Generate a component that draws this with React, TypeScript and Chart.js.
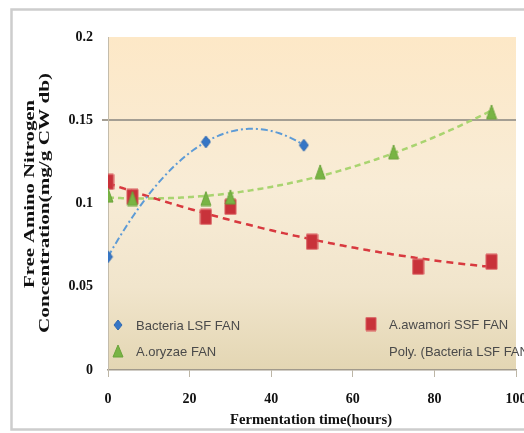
import React, { useEffect, useRef } from 'react';
import { Chart, registerables } from 'chart.js';

Chart.register(...registerables);

// ---- data ----
const bacteriaX = [0, 24, 48];
const bacteriaY = [0.068, 0.137, 0.135];
const awamoriX = [0, 6, 24, 30, 50, 76, 94];
const awamoriY = [0.113, 0.104, 0.092, 0.098, 0.077, 0.062, 0.065];
const oryzaeX = [0, 6, 24, 30, 52, 70, 94];
const oryzaeY = [0.105, 0.103, 0.103, 0.104, 0.119, 0.131, 0.155];

const xTickLabels = ['0', '20', '40', '60', '80', '100'];
const yTickLabels = ['0', '0.05', '0.1', '0.15', '0.2'];
const legendLabels = ['Bacteria LSF FAN', 'A.awamori SSF FAN', 'A.oryzae FAN', 'Poly. (Bacteria LSF FAN)'];
const xTitle = 'Fermentation time(hours)';
const yTitleLines = ['Free Amino Nitrogen', 'Concentration(mg/g CW db)'];

// quadratic least-squares trendline (like Excel "Poly." trendline, order 2)
function polyFit2(xs: number[], ys: number[]) {
  let s0 = 0, s1 = 0, s2 = 0, s3 = 0, s4 = 0, t0 = 0, t1 = 0, t2 = 0;
  for (let i = 0; i < xs.length; i++) {
    const x = xs[i], y = ys[i];
    s0 += 1; s1 += x; s2 += x * x; s3 += x * x * x; s4 += x * x * x * x;
    t0 += y; t1 += x * y; t2 += x * x * y;
  }
  const det3 = (m: number[][]) =>
    m[0][0] * (m[1][1] * m[2][2] - m[1][2] * m[2][1]) -
    m[0][1] * (m[1][0] * m[2][2] - m[1][2] * m[2][0]) +
    m[0][2] * (m[1][0] * m[2][1] - m[1][1] * m[2][0]);
  const A = [[s0, s1, s2], [s1, s2, s3], [s2, s3, s4]];
  const B = [t0, t1, t2];
  const D = det3(A);
  const col = (k: number) => A.map((row, r) => row.map((v, c) => (c === k ? B[r] : v)));
  return [det3(col(0)) / D, det3(col(1)) / D, det3(col(2)) / D];
}
function trend(xs: number[], ys: number[]) {
  const [a, b, c] = polyFit2(xs, ys);
  const pts: { x: number; y: number }[] = [];
  const x0 = xs[0], x1 = xs[xs.length - 1];
  for (let x = x0; x <= x1; x += 0.5) pts.push({ x, y: a + b * x + c * x * x });
  return pts;
}
const pairs = (xs: number[], ys: number[]) => xs.map((x, i) => ({ x, y: ys[i] }));

function makeMarker(kind: string, w: number, h: number, fill: string, stroke: string) {
  const c = document.createElement('canvas');
  c.width = w + 2; c.height = h + 2;
  const g = c.getContext('2d')!;
  g.fillStyle = fill; g.strokeStyle = stroke; g.lineWidth = 1;
  g.beginPath();
  if (kind === 'diamond') {
    g.moveTo(1 + w / 2, 1); g.lineTo(1 + w, 1 + h / 2); g.lineTo(1 + w / 2, 1 + h); g.lineTo(1, 1 + h / 2);
  } else if (kind === 'square') {
    g.rect(1, 1, w, h);
  } else {
    g.moveTo(1 + w / 2, 1); g.lineTo(1 + w, 1 + h); g.lineTo(1, 1 + h);
  }
  g.closePath(); g.fill(); g.stroke();
  return c;
}

const SERIF = '"Liberation Serif", "Times New Roman", serif';
const SANS = '"Liberation Sans", Arial, sans-serif';

export default function App() {
  const ref = useRef<HTMLCanvasElement>(null);
  useEffect(() => {
    const canvas = ref.current!;
    const diamond = makeMarker('diamond', 9, 12, '#3676c6', '#2f68b0');
    const square = makeMarker('square', 11, 15, '#c8323a', '#d9585c');
    const tri = makeMarker('tri', 10, 14, '#78b444', '#6aa33a');
    const diamondL = makeMarker('diamond', 8, 10, '#3676c6', '#2f68b0');
    const squareL = makeMarker('square', 10, 13, '#c8323a', '#d9585c');
    const triL = makeMarker('tri', 10, 12, '#78b444', '#6aa33a');

    const bgPlugin = {
      id: 'bg',
      beforeDraw(chart: any) {
        const ctx = chart.ctx as CanvasRenderingContext2D;
        const { left, right, top, bottom } = chart.chartArea;
        ctx.save();
        ctx.fillStyle = '#ffffff';
        ctx.fillRect(0, 0, chart.width, chart.height);
        ctx.strokeStyle = '#cdcdcd';
        ctx.lineWidth = 2.5;
        ctx.strokeRect(11.5, 9.5, 540, 420);
        const g = ctx.createLinearGradient(0, top, 0, bottom);
        g.addColorStop(0, '#fde8c7');
        g.addColorStop(0.45, '#f8ecd6');
        g.addColorStop(0.75, '#f1e5cc');
        g.addColorStop(1, '#e3d6b3');
        ctx.fillStyle = g;
        ctx.fillRect(left, top, right - left, bottom - top);
        ctx.restore();
      },
    };

    const drawFitted = (ctx: CanvasRenderingContext2D, text: string, cx: number, cy: number, len: number, font: string, rotate: boolean, color: string) => {
      ctx.save();
      ctx.font = font;
      const w = ctx.measureText(text).width;
      ctx.translate(cx, cy);
      if (rotate) ctx.rotate(-Math.PI / 2);
      ctx.scale(len / w, 1);
      ctx.fillStyle = color;
      ctx.textAlign = 'center';
      ctx.textBaseline = 'middle';
      ctx.fillText(text, 0, 0);
      ctx.restore();
    };

    const overlayPlugin = {
      id: 'overlay',
      afterDraw(chart: any) {
        const ctx = chart.ctx as CanvasRenderingContext2D;
        // axis titles
        drawFitted(ctx, xTitle, 311, 420, 162, `bold 15px ${SERIF}`, false, '#111');
        drawFitted(ctx, yTitleLines[0], 30, 194, 188, `bold 14px ${SERIF}`, true, '#111');
        drawFitted(ctx, yTitleLines[1], 45, 203, 260, `bold 14px ${SERIF}`, true, '#111');
        // legend
        const items = [
          { img: diamondL, x: 118, y: 325, tx: 136, label: legendLabels[0] },
          { img: squareL, x: 371, y: 324, tx: 389, label: legendLabels[1] },
          { img: triL, x: 118, y: 351, tx: 136, label: legendLabels[2] },
          { img: null, x: 0, y: 351, tx: 389, label: legendLabels[3] },
        ];
        ctx.save();
        ctx.font = `13px ${SANS}`;
        ctx.fillStyle = '#4a4a4a';
        ctx.textAlign = 'left';
        ctx.textBaseline = 'middle';
        for (const it of items) {
          if (it.img) ctx.drawImage(it.img, it.x - it.img.width / 2, it.y - it.img.height / 2);
          ctx.fillText(it.label, it.tx, it.y + 1);
        }
        ctx.restore();
      },
    };

    const isV = (v: number, t: number) => Math.abs(v - t) < 1e-9;

    const chart = new Chart(canvas, {
      type: 'scatter',
      data: {
        datasets: [
          { label: legendLabels[0], data: pairs(bacteriaX, bacteriaY), pointStyle: diamond as any, pointRadius: 6, showLine: false },
          { label: legendLabels[2], data: pairs(oryzaeX, oryzaeY), pointStyle: tri as any, pointRadius: 7, showLine: false },
          { label: legendLabels[1], data: pairs(awamoriX, awamoriY), pointStyle: square as any, pointRadius: 7, showLine: false },
          { label: legendLabels[3], data: trend(bacteriaX, bacteriaY), showLine: true, pointRadius: 0, borderColor: '#5d9bd6', borderWidth: 2, borderDash: [7, 3, 2, 3], fill: false },
          { label: 'Poly. (A.awamori SSF FAN)', data: trend(awamoriX, awamoriY), showLine: true, pointRadius: 0, borderColor: '#d8393f', borderWidth: 2.5, borderDash: [7, 5], fill: false },
          { label: 'Poly. (A.oryzae FAN)', data: trend(oryzaeX, oryzaeY), showLine: true, pointRadius: 0, borderColor: '#a9d470', borderWidth: 2.5, borderDash: [6, 4], fill: false },
        ] as any,
      },
      options: {
        responsive: false,
        animation: false,
        devicePixelRatio: 1,
        layout: { padding: { left: 0, right: 7, top: 37, bottom: 0 } },
        plugins: { legend: { display: false }, tooltip: { enabled: false }, title: { display: false } },
        scales: {
          x: {
            type: 'linear',
            min: 0,
            max: 100,
            ticks: {
              stepSize: 20,
              autoSkip: false,
              maxRotation: 0,
              padding: 14,
              color: '#111',
              font: { family: SERIF, weight: 'bold', size: 14 },
              callback: (v: any) => xTickLabels.find((l) => isV(parseFloat(l), Number(v))) ?? '',
            },
            grid: { drawOnChartArea: false, drawTicks: true, tickLength: 7, tickColor: '#bdb6a6' },
            border: { display: true, color: '#a19a8c', width: 1.5 },
            afterFit: (s: any) => { s.height = 63; s.paddingLeft = 0; s.paddingRight = 0; },
          },
          y: {
            type: 'linear',
            min: 0,
            max: 0.2,
            ticks: {
              stepSize: 0.05,
              padding: 9,
              color: '#111',
              font: { family: SERIF, weight: 'bold', size: 14 },
              callback: (v: any) => yTickLabels.find((l) => isV(parseFloat(l), Number(v))) ?? '',
            },
            grid: {
              drawTicks: true,
              tickLength: 6,
              color: (c: any) => (c.tick && isV(c.tick.value, 0.15) ? '#a49e93' : 'rgba(0,0,0,0)'),
              lineWidth: (c: any) => (c.tick && isV(c.tick.value, 0.15) ? 2 : 0),
              tickColor: (c: any) => (c.tick && (isV(c.tick.value, 0.15) || isV(c.tick.value, 0)) ? '#a49e93' : 'rgba(0,0,0,0)'),
            },
            border: { display: true, color: '#c4bcab', width: 1 },
            afterFit: (s: any) => { s.width = 108; s.paddingTop = 0; s.paddingBottom = 0; },
          },
        },
      } as any,
      plugins: [bgPlugin, overlayPlugin],
    });
    return () => chart.destroy();
  }, []);

  return (
    <div style={{ position: 'absolute', left: 0, top: 0, width: 524, height: 433 }}>
      <canvas ref={ref} width={524} height={433} style={{ display: 'block', width: 524, height: 433 }} />
    </div>
  );
}
